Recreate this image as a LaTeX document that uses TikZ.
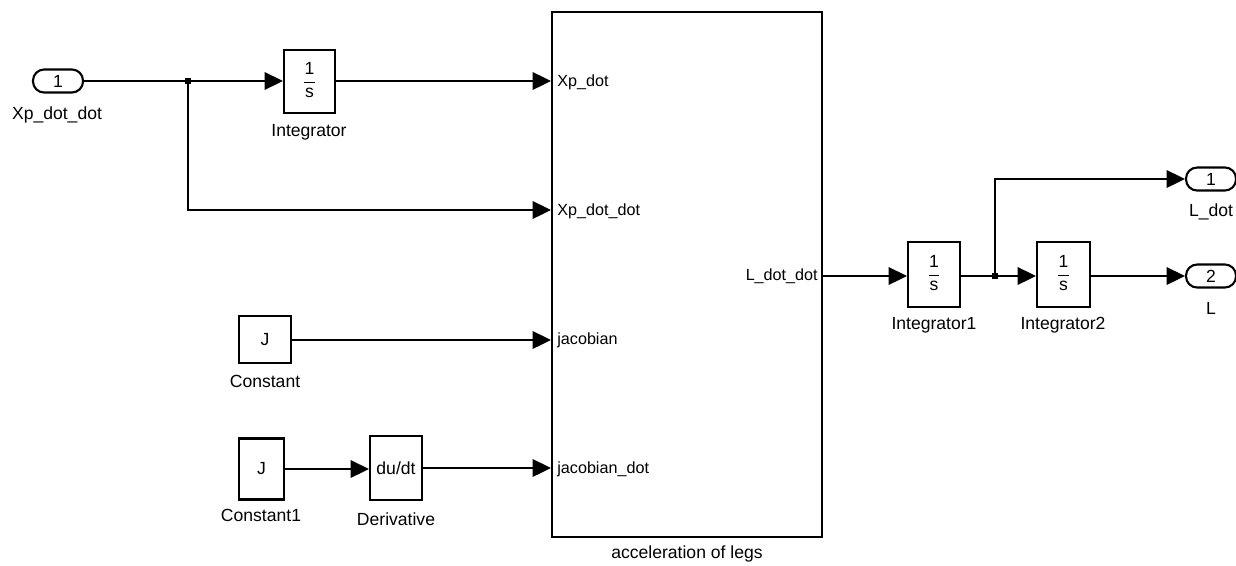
\documentclass[tikz,border=0pt]{standalone}
\usepackage{fontspec}
\setmainfont{Liberation Sans}
\usetikzlibrary{arrows.meta}
\begin{document}
\begin{tikzpicture}[x=0.02cm,y=-0.02cm,
  wire/.style={line width=1.2pt,-{Triangle[length=10.5pt,width=10pt]}},
  plain/.style={line width=1.2pt},
  blk/.style={draw,line width=1.2pt,inner sep=0pt,font=\fontsize{10}{12}\selectfont},
  port/.style={draw,line width=1.2pt,rounded corners=6.3pt,inner sep=0pt,minimum width=1cm,minimum height=0.46cm,font=\fontsize{10}{12}\selectfont},
  lbl/.style={font=\fontsize{10}{12}\selectfont,inner sep=0pt},
  plbl/.style={font=\fontsize{9.2}{11}\selectfont,inner sep=0pt},
  junc/.style={fill,inner sep=0pt,minimum size=3.5pt}]
\useasboundingbox (0,0) rectangle (1236,565);

% integrator content: 1 over s
\newcommand{\oneovers}{\begin{tabular}{@{}c@{}}1\\[-7pt]\rule{6pt}{0.7pt}\\[-4pt]s\end{tabular}}

% blocks
\node[port] (in1) at (58,81) {1};
\node[lbl] at (57,115) {Xp\_dot\_dot};

\node[blk,minimum width=1.02cm,minimum height=1.26cm] (int) at (309.5,81.5) {\oneovers};
\node[lbl] at (309,132) {Integrator};

\node[blk,minimum width=1.04cm,minimum height=0.94cm] (c0) at (265,339.5) {J};
\node[lbl] at (265,381) {Constant};

\node[blk,minimum width=0.9cm,minimum height=1.22cm] (c1) at (261.5,469) {J};
\node[lbl] at (261,515) {Constant1};

\node[blk,minimum width=1.04cm,minimum height=1.28cm] (der) at (396,468) {du/dt};
\node[lbl] at (396,519) {Derivative};

\node[draw,line width=1.2pt,minimum width=5.4cm,minimum height=10.5cm,inner sep=0pt] (acc) at (687,274.5) {};
\node[lbl] at (687,554) {acceleration of legs};

\node[plbl,anchor=west] at (557,82) {Xp\_dot};
\node[plbl,anchor=west] at (557,211) {Xp\_dot\_dot};
\node[plbl,anchor=west] at (557,340) {jacobian};
\node[plbl,anchor=west] at (557,469) {jacobian\_dot};
\node[plbl,anchor=east] at (818,276) {L\_dot\_dot};

\node[blk,minimum width=1.04cm,minimum height=1.3cm] (int1) at (934,274.5) {\oneovers};
\node[lbl] at (934,325) {Integrator1};

\node[blk,minimum width=1.06cm,minimum height=1.3cm] (int2) at (1063.5,274.5) {\oneovers};
\node[lbl] at (1063,325) {Integrator2};

\node[port] (out1) at (1211,179) {1};
\node[lbl] at (1211,212) {L\_dot};
\node[port] (out2) at (1211,276) {2};
\node[lbl] at (1211,308) {L};

% junctions
\node[junc] (j1) at (188,81) {};
\node[junc] (j2) at (995,276) {};

% connectors
\draw[plain] (in1.east) -- (j1.center);
\draw[wire] (j1.center) -- (int.west |- j1.center);
\draw[wire] (j1.center) |- (acc.west |- 0,210);
\draw[wire] (int.east |- 0,81) -- (acc.west |- 0,81);
\draw[wire] (c0.east |- 0,340) -- (acc.west |- 0,340);
\draw[wire] (c1.east) -- (der.west |- c1.east);
\draw[wire] (der.east) -- (acc.west |- der.east);
\draw[wire] (acc.east |- 0,276) -- (int1.west |- 0,276);
\draw[plain] (int1.east |- 0,276) -- (j2.center);
\draw[wire] (j2.center) -- (int2.west |- j2.center);
\draw[wire] (j2.center) |- (out1.west);
\draw[wire] (int2.east |- 0,276) -- (out2.west);
\end{tikzpicture}
\end{document}
